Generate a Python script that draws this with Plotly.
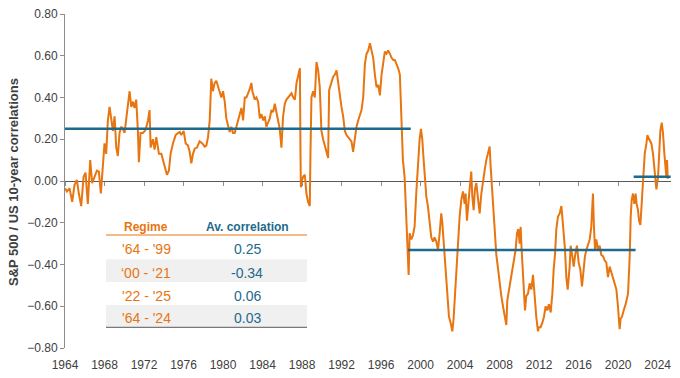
import plotly.graph_objects as go

# ---------------- data ----------------
dates = [
    1964.00, 1964.19, 1964.46, 1964.73, 1964.96, 1965.20, 1965.40, 1965.64, 1965.88, 1966.08,
    1966.31, 1966.55, 1966.75, 1966.99, 1967.23, 1967.43, 1967.63, 1967.83, 1968.00, 1968.17,
    1968.34, 1968.51, 1968.68, 1968.85, 1969.02, 1969.19, 1969.35, 1969.52, 1969.69, 1969.86,
    1970.03, 1970.20, 1970.37, 1970.54, 1970.71, 1970.88, 1971.04, 1971.21, 1971.38, 1971.48,
    1971.65, 1971.89, 1972.16, 1972.40, 1972.56, 1972.67, 1972.90, 1973.07, 1973.24, 1973.51,
    1973.75, 1973.92, 1974.19, 1974.32, 1974.52, 1974.69, 1974.93, 1975.20, 1975.44, 1975.61,
    1975.77, 1976.01, 1976.22, 1976.45, 1976.62, 1976.79, 1976.96, 1977.13, 1977.36, 1977.63,
    1977.90, 1978.14, 1978.31, 1978.48, 1978.65, 1978.81, 1978.98, 1979.15, 1979.32, 1979.49,
    1979.66, 1979.83, 1980.00, 1980.17, 1980.33, 1980.50, 1980.67, 1980.84, 1981.01, 1981.18,
    1981.35, 1981.52, 1981.69, 1981.86, 1982.03, 1982.20, 1982.36, 1982.53, 1982.70, 1982.87,
    1982.97, 1983.21, 1983.38, 1983.55, 1983.72, 1983.89, 1984.06, 1984.23, 1984.39, 1984.56,
    1984.73, 1984.90, 1985.07, 1985.24, 1985.41, 1985.57, 1985.74, 1985.91, 1986.08, 1986.25,
    1986.42, 1986.59, 1986.76, 1986.93, 1987.10, 1987.27, 1987.44, 1987.61, 1987.78, 1987.84,
    1987.88, 1987.97, 1988.11, 1988.28, 1988.44, 1988.61, 1988.78, 1988.85, 1988.95, 1989.12,
    1989.29, 1989.46, 1989.63, 1989.79, 1989.96, 1990.13, 1990.30, 1990.47, 1990.64, 1990.74,
    1990.98, 1991.15, 1991.32, 1991.49, 1991.66, 1991.82, 1991.99, 1992.16, 1992.33, 1992.50,
    1992.67, 1992.84, 1993.00, 1993.17, 1993.34, 1993.51, 1993.68, 1993.85, 1994.02, 1994.19,
    1994.36, 1994.53, 1994.70, 1994.87, 1995.03, 1995.20, 1995.37, 1995.54, 1995.71, 1995.88,
    1996.05, 1996.22, 1996.38, 1996.55, 1996.72, 1996.89, 1997.06, 1997.23, 1997.39, 1997.56,
    1997.73, 1997.90, 1997.98, 1998.04, 1998.21, 1998.38, 1998.50, 1998.62, 1998.72, 1998.79,
    1998.89, 1999.06, 1999.23, 1999.39, 1999.56, 1999.73, 1999.90, 2000.04, 2000.17, 2000.31,
    2000.44, 2000.58, 2000.74, 2000.91, 2001.08, 2001.25, 2001.42, 2001.59, 2001.76, 2001.93,
    2002.09, 2002.20, 2002.36, 2002.53, 2002.70, 2002.87, 2003.04, 2003.21, 2003.34, 2003.48,
    2003.61, 2003.78, 2003.95, 2004.12, 2004.29, 2004.46, 2004.56, 2004.69, 2004.83, 2004.96,
    2005.13, 2005.23, 2005.37, 2005.50, 2005.64, 2005.81, 2005.98, 2006.15, 2006.31, 2006.48,
    2006.65, 2006.82, 2006.99, 2007.09, 2007.19, 2007.33, 2007.50, 2007.66, 2007.83, 2008.00,
    2008.17, 2008.34, 2008.51, 2008.68, 2008.78, 2008.95, 2009.12, 2009.28, 2009.45, 2009.62,
    2009.76, 2009.89, 2010.03, 2010.13, 2010.23, 2010.33, 2010.43, 2010.57, 2010.70, 2010.87,
    2011.04, 2011.21, 2011.38, 2011.48, 2011.58, 2011.71, 2011.88, 2011.98, 2012.15, 2012.32,
    2012.49, 2012.66, 2012.83, 2012.99, 2013.17, 2013.34, 2013.47, 2013.61, 2013.74, 2013.91,
    2014.08, 2014.25, 2014.38, 2014.48, 2014.62, 2014.75, 2014.89, 2015.09, 2015.19, 2015.33,
    2015.50, 2015.66, 2015.83, 2016.00, 2016.17, 2016.34, 2016.51, 2016.64, 2016.78, 2016.95,
    2017.12, 2017.28, 2017.45, 2017.55, 2017.66, 2017.79, 2017.96, 2018.13, 2018.30, 2018.47,
    2018.63, 2018.80, 2018.97, 2019.14, 2019.31, 2019.48, 2019.65, 2019.82, 2019.98, 2020.15,
    2020.25, 2020.39, 2020.56, 2020.76, 2021.00, 2021.17, 2021.27, 2021.37, 2021.50, 2021.64,
    2021.77, 2021.87, 2022.01, 2022.11, 2022.25, 2022.38, 2022.52, 2022.69, 2022.86, 2022.96,
    2023.09, 2023.19, 2023.36, 2023.53, 2023.70, 2023.87, 2024.04, 2024.14, 2024.27, 2024.41,
    2024.54, 2024.68, 2024.78, 2024.88, 2024.95, 2025.02, 2025.08,
]

correlation = [
    -0.035, -0.05, -0.035, -0.10, -0.02, 0.005, -0.06, -0.12, 0.02, 0.04,
    -0.11, 0.10, -0.01, 0.02, 0.05, 0.045, -0.06, 0.07, 0.18, 0.13,
    0.29, 0.355, 0.29, 0.24, 0.31, 0.16, 0.12, 0.23, 0.26, 0.25,
    0.23, 0.29, 0.37, 0.43, 0.355, 0.38, 0.35, 0.39, 0.24, 0.09,
    0.23, 0.23, 0.245, 0.29, 0.34, 0.16, 0.20, 0.15, 0.21, 0.13,
    0.13, 0.10, 0.06, 0.03, 0.05, 0.13, 0.18, 0.22, 0.23, 0.235,
    0.22, 0.24, 0.18, 0.17, 0.14, 0.085, 0.13, 0.155, 0.16, 0.19,
    0.18, 0.165, 0.17, 0.21, 0.29, 0.49, 0.43, 0.47, 0.48, 0.45,
    0.43, 0.40, 0.43, 0.38, 0.30, 0.27, 0.235, 0.26, 0.23, 0.23,
    0.26, 0.29, 0.32, 0.35, 0.29, 0.40, 0.40, 0.42, 0.44, 0.47,
    0.43, 0.39, 0.40, 0.38, 0.30, 0.32, 0.29, 0.31, 0.26, 0.28,
    0.30, 0.34, 0.33, 0.37, 0.32, 0.29, 0.25, 0.16, 0.31, 0.37,
    0.39, 0.40, 0.41, 0.42, 0.40, 0.39, 0.47, 0.51, 0.54, 0.13,
    -0.03, 0.00, 0.02, 0.03, -0.06, -0.10, -0.12, 0.13, 0.40, 0.43,
    0.40, 0.57, 0.53, 0.45, 0.24, 0.20, 0.17, 0.13, 0.11, 0.435,
    0.47, 0.50, 0.51, 0.53, 0.47, 0.40, 0.355, 0.31, 0.24, 0.22,
    0.21, 0.20, 0.19, 0.14, 0.21, 0.26, 0.29, 0.32, 0.34, 0.40,
    0.56, 0.61, 0.625, 0.66, 0.625, 0.59, 0.51, 0.45, 0.46, 0.41,
    0.51, 0.58, 0.62, 0.61, 0.625, 0.61, 0.59, 0.58, 0.58, 0.56,
    0.54, 0.51, 0.40, 0.24, 0.10, 0.02, -0.12, -0.23, -0.33, -0.45,
    -0.25, -0.28, -0.26, -0.22, -0.06, 0.085, 0.20, 0.25, 0.20, 0.10,
    0.00, -0.075, -0.12, -0.19, -0.27, -0.29, -0.27, -0.29, -0.33, -0.25,
    -0.155, -0.20, -0.31, -0.41, -0.54, -0.65, -0.68, -0.72, -0.66, -0.55,
    -0.39, -0.27, -0.17, -0.09, -0.05, -0.11, -0.06, -0.19, -0.09, -0.04,
    0.045, -0.07, -0.14, -0.04, -0.01, -0.075, -0.155, -0.06, 0.005, 0.05,
    0.10, 0.13, 0.165, 0.07, 0.005, -0.09, -0.23, -0.35, -0.425, -0.49,
    -0.55, -0.60, -0.65, -0.69, -0.57, -0.52, -0.465, -0.41, -0.38, -0.33,
    -0.25, -0.23, -0.30, -0.22, -0.33, -0.425, -0.55, -0.62, -0.55, -0.54,
    -0.49, -0.52, -0.45, -0.52, -0.585, -0.65, -0.72, -0.70, -0.70, -0.68,
    -0.65, -0.60, -0.62, -0.59, -0.63, -0.54, -0.425, -0.35, -0.23, -0.17,
    -0.155, -0.12, -0.19, -0.25, -0.33, -0.46, -0.52, -0.41, -0.31, -0.35,
    -0.41, -0.35, -0.31, -0.39, -0.425, -0.505, -0.41, -0.36, -0.33, -0.30,
    -0.28, -0.22, -0.06, -0.22, -0.33, -0.28, -0.33, -0.31, -0.355, -0.36,
    -0.38, -0.39, -0.46, -0.41, -0.44, -0.47, -0.49, -0.52, -0.60, -0.71,
    -0.66, -0.65, -0.62, -0.59, -0.54, -0.36, -0.17, -0.09, -0.06, -0.11,
    -0.06, -0.11, -0.14, -0.19, -0.21, -0.12, 0.02, 0.13, 0.18, 0.22,
    0.205, 0.195, 0.18, 0.13, 0.05, -0.04, 0.02, 0.15, 0.24, 0.28,
    0.23, 0.13, 0.07, 0.02, 0.10, 0.01,
]

# regime averages drawn as horizontal segments
regime_start = [1964.0, 1998.72, 2021.57]
regime_end = [1999.0, 2021.77, 2025.32]
regime_level = [0.25, -0.33, 0.02]

# table
table_header = ["Regime", "Av. correlation"]
table_regimes = ["'64 - '99", "\u201800 - \u201821", "'22 - '25", "'64 - '24"]
table_values = ["0.25", "-0.34", "0.06", "0.03"]

x_ticks = list(range(1964, 2025, 4))
x_ticktext = [str(y) for y in x_ticks]
y_ticks = [-0.8, -0.6, -0.4, -0.2, 0.0, 0.2, 0.4, 0.6, 0.8]

# ---------------- style ----------------
ORANGE = "#E8750F"
TEAL = "#1D6A8C"
AXIS_GREY = "#8C8C8C"
TEXT_GREY = "#404040"
FONT = "Liberation Sans, Arial, sans-serif"

W, H = 680, 378
ML, MR, MT, MB = 65, 9, 14, 30
PW, PH = W - ML - MR, H - MT - MB


def px_x(px):
    return (px - ML) / PW


def px_y(py):
    return (H - MB - py) / PH


fig = go.Figure()

fig.add_trace(go.Scatter(
    x=dates, y=correlation, mode="lines",
    line=dict(color=ORANGE, width=2), hoverinfo="skip", showlegend=False,
))

for xs, xe, lv in zip(regime_start, regime_end, regime_level):
    fig.add_trace(go.Scatter(
        x=[xs, xe], y=[lv, lv], mode="lines", xaxis="x2", yaxis="y",
        line=dict(color=TEAL, width=2.5), hoverinfo="skip", showlegend=False,
    ))

x_range = [1964.0, 2025.35]

fig.update_layout(
    width=W, height=H,
    margin=dict(l=ML, r=MR, t=MT, b=MB, autoexpand=False),
    paper_bgcolor="white", plot_bgcolor="white",
    font=dict(family=FONT, size=12, color=TEXT_GREY),
    xaxis=dict(
        range=x_range, tickvals=x_ticks, ticktext=x_ticktext,
        showgrid=False, zeroline=False, showline=False,
        ticks="outside", ticklen=6, tickcolor="rgba(0,0,0,0)",
        tickfont=dict(size=12, color=TEXT_GREY),
    ),
    xaxis2=dict(
        range=x_range, overlaying="x", anchor="free", position=0.5, side="bottom",
        tickvals=x_ticks, showticklabels=False, ticks="outside", ticklen=4,
        tickcolor=AXIS_GREY, showgrid=False, zeroline=False, showline=False,
    ),
    yaxis=dict(
        range=[-0.8, 0.8], tickvals=y_ticks, tickformat=".2f",
        showgrid=False, showline=True, linecolor=AXIS_GREY, linewidth=1,
        ticks="outside", ticklen=4, tickcolor=AXIS_GREY,
        zeroline=True, zerolinecolor="#595959", zerolinewidth=1,
        tickfont=dict(size=12, color=TEXT_GREY),
    ),
)


def label(text, px, py, size, color, angle=0):
    fig.add_annotation(
        text=text, textangle=angle, xref="paper", yref="paper",
        x=px_x(px), y=px_y(py), xanchor="center", yanchor="middle",
        showarrow=False, font=dict(size=size, color=color, family=FONT),
    )


# y-axis title
label("<b>S&P 500 / US 10-year correlations</b>", 13, 182, 13, TEXT_GREY, angle=-90)

# ---------------- table ----------------
tbl_left, tbl_right = 106, 307
col_regime, col_value = 146, 247
header_y = 227
header_line_y = 235
row_edges = [235.5, 259.3, 282.0, 305.0, 327.3]

for i in range(len(table_regimes)):
    top, bot = row_edges[i], row_edges[i + 1]
    if i % 2 == 1:
        fig.add_shape(type="rect", xref="paper", yref="paper",
                      x0=px_x(tbl_left), x1=px_x(tbl_right), y0=px_y(bot), y1=px_y(top),
                      fillcolor="#F0F0F0", line=dict(width=0), layer="below")
    cy = (top + bot) / 2 + 2
    label(table_regimes[i], col_regime, cy, 14, ORANGE)
    label(table_values[i], col_value, cy, 14, TEAL)

label("<b>" + table_header[0] + "</b>", col_regime, header_y, 12, ORANGE)
label("<b>" + table_header[1] + "</b>", col_value, header_y, 12, TEAL)

fig.add_shape(type="line", xref="paper", yref="paper",
              x0=px_x(tbl_left), x1=px_x(tbl_right),
              y0=px_y(header_line_y), y1=px_y(header_line_y),
              line=dict(color=ORANGE, width=1))
fig.add_shape(type="line", xref="paper", yref="paper",
              x0=px_x(tbl_left), x1=px_x(tbl_right),
              y0=px_y(row_edges[-1]), y1=px_y(row_edges[-1]),
              line=dict(color="#595959", width=1))

fig.write_html("out.html", config={"displayModeBar": False},
               post_script="document.body.style.margin='0';")
